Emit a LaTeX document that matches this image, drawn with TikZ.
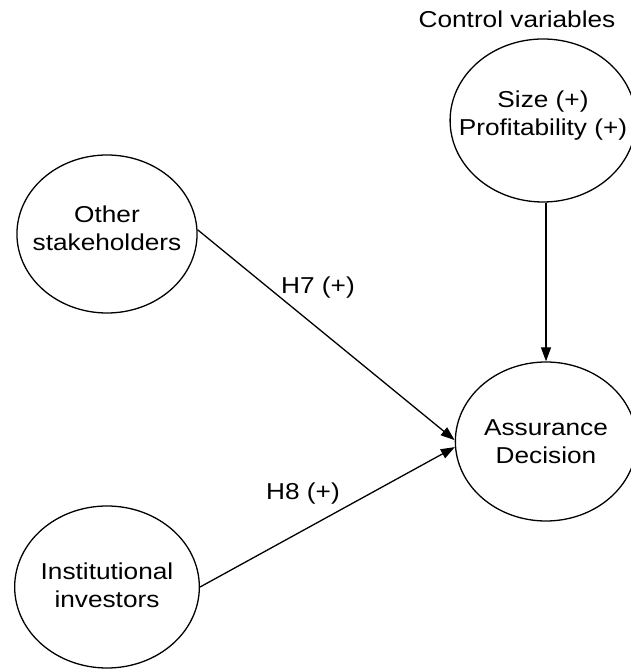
\documentclass[tikz,border=0pt]{standalone}
\usepackage{fontspec}
\setmainfont{Liberation Sans}
\usetikzlibrary{arrows.meta}
\begin{document}
\begin{tikzpicture}[x=1pt,y=1pt,
  txt/.style={font=\fontsize{23}{28.5}\selectfont, align=center,
              xscale=1.14, transform shape, inner sep=0pt},
  var/.style={txt, circle, draw, line width=1.3pt},
  link/.style={line width=1.3pt, -{Triangle[length=14pt,width=10pt]}}]
  \useasboundingbox (0,0) rectangle (630,669);

  % constructs
  \node[var, minimum size=163pt, text depth=15pt] (ctrl)  at (543,548.5) {Size (+)\\Profitability (+)};
  \node[var, minimum size=158pt, text depth=12pt] (other) at (107,435)   {Other\\stakeholders};
  \node[var, minimum size=159pt] (dec)   at (546,227.5) {Assurance\\Decision};
  \node[var, minimum size=162pt, text depth=4pt] (inst)  at (107,82)    {Institutional\\investors};

  % captions
  \node[txt] (ctrllbl) at (517,650) {Control variables};
  \node[txt] (h7) at (318,381) {H7 (+)};
  \node[txt] (h8) at (303,175) {H8 (+)};

  % hypothesised paths
  \draw[link] (other.3) -- (dec.179);
  \draw[link] (inst.east) -- (dec.184);
  \draw[link] (ctrl.south -| dec.north) -- (dec.north);
\end{tikzpicture}
\end{document}
